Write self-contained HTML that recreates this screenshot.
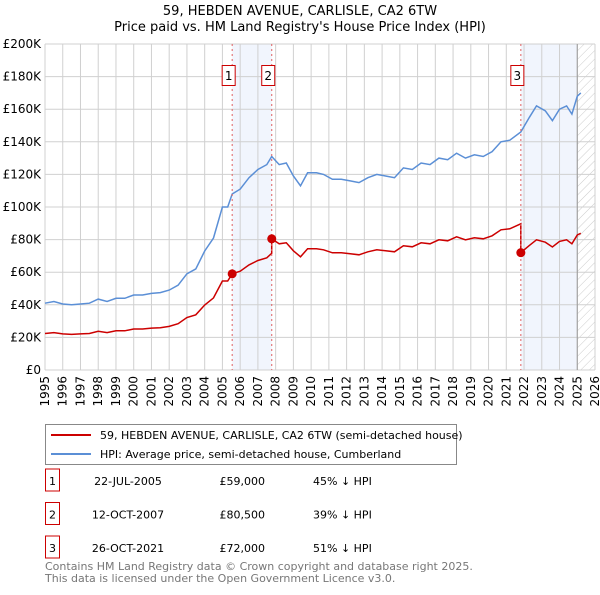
<!DOCTYPE html>
<html><head><meta charset="utf-8"><style>
body{margin:0;background:#fff;font-family:"Liberation Sans","DejaVu Sans",sans-serif;}
svg text{font-family:"DejaVu Sans","Liberation Sans",sans-serif;}
</style></head><body>
<svg id="c" width="600" height="590" xmlns="http://www.w3.org/2000/svg">
<defs><pattern id="hatch" width="6" height="6" patternUnits="userSpaceOnUse" patternTransform="rotate(45)"><line x1="0" y1="0" x2="0" y2="6" stroke="#ccc" stroke-width="1"/></pattern></defs>
<text x="300" y="15" text-anchor="middle" font-size="13">59, HEBDEN AVENUE, CARLISLE, CA2 6TW</text>
<text x="300" y="31" text-anchor="middle" font-size="13">Price paid vs. HM Land Registry's House Price Index (HPI)</text>
<g id="plot"></g>
<g>
<rect x="45.5" y="424.5" width="411" height="40" fill="#fff" stroke="#888"/>
<line x1="51" y1="435" x2="91" y2="435" stroke="#cc0000" stroke-width="2"/>
<text x="100" y="439" font-size="11">59, HEBDEN AVENUE, CARLISLE, CA2 6TW (semi-detached house)</text>
<line x1="51" y1="454" x2="91" y2="454" stroke="#5b8fd6" stroke-width="2"/>
<text x="100" y="458" font-size="11">HPI: Average price, semi-detached house, Cumberland</text>
</g>
<g id="tbl" font-size="11"></g>
<text x="45" y="570" font-size="11" fill="#777">Contains HM Land Registry data © Crown copyright and database right 2025.</text>
<text x="45" y="582" font-size="11" fill="#777">This data is licensed under the Open Government Licence v3.0.</text>
</svg>
<script>
const hpiYears=[1995,1995.5,1996,1996.5,1997,1997.5,1998,1998.5,1999,1999.5,2000,2000.5,2001,2001.5,2002,2002.5,2003,2003.5,2004,2004.5,2005,2005.3,2005.55,2006,2006.5,2007,2007.5,2007.78,2008.2,2008.6,2009,2009.4,2009.8,2010.3,2010.7,2011.2,2011.7,2012.2,2012.7,2013.2,2013.7,2014.2,2014.7,2015.2,2015.7,2016.2,2016.7,2017.2,2017.7,2018.2,2018.7,2019.2,2019.7,2020.2,2020.7,2021.2,2021.82,2022.3,2022.7,2023.2,2023.6,2024.0,2024.4,2024.7,2025.0,2025.2];
const hpiValues=[41,42,40.5,40,40.5,41,43.5,42,44,44,46,46,47,47.5,49,52,59,62,73,81,100,100,108,111,118,123,126,131,126,127,119,113,121,121,120,117,117,116,115,118,120,119,118,124,123,127,126,130,129,133,130,132,131,134,140,141,146,155,162,159,153,160,162,157,168,170];
const saleYears=[2005.55,2007.78,2021.82];
const salePrices=[59,80.5,72];
const saleDates=["22-JUL-2005","12-OCT-2007","26-OCT-2021"];
const saleLabels=["£59,000","£80,500","£72,000"];
const saleDiffs=["45% ↓ HPI","39% ↓ HPI","51% ↓ HPI"];
const yTicks=[0,20,40,60,80,100,120,140,160,180,200];
const yTickLabels=["£0","£20K","£40K","£60K","£80K","£100K","£120K","£140K","£160K","£180K","£200K"];
const xTicks=[1995,1996,1997,1998,1999,2000,2001,2002,2003,2004,2005,2006,2007,2008,2009,2010,2011,2012,2013,2014,2015,2016,2017,2018,2019,2020,2021,2022,2023,2024,2025,2026];

const NS="http://www.w3.org/2000/svg";
const X0=45,X1=595,Y0=370,Y1=44;
const xs=y=>X0+(y-1995)/(2026-1995)*(X1-X0);
const ys=v=>Y0-v/200*(Y0-Y1);
function mk(p,t,a){const e=document.createElementNS(NS,t);for(const k in a)e.setAttribute(k,a[k]);p.appendChild(e);return e;}
const g=document.getElementById('plot');
function hpiAt(t){for(let i=0;i<hpiYears.length-1;i++){if(t<=hpiYears[i+1]){const f=(t-hpiYears[i])/(hpiYears[i+1]-hpiYears[i]);return hpiValues[i]+f*(hpiValues[i+1]-hpiValues[i]);}}return hpiValues[hpiValues.length-1];}
let r=mk(g,'rect',{x:xs(saleYears[0]),y:Y1,width:xs(saleYears[1])-xs(saleYears[0]),height:Y0-Y1,fill:'#eef3fc',opacity:0.8});


r=mk(g,'rect',{x:xs(saleYears[2]),y:Y1,width:xs(2025)-xs(saleYears[2]),height:Y0-Y1,fill:'#eef3fc',opacity:0.8});


r=mk(g,'rect',{x:xs(2025),y:Y1,width:X1-xs(2025),height:Y0-Y1,fill:'url(#hatch)'});


yTicks.forEach((v,i)=>{
 const l=mk(g,'line',{x1:X0,x2:X1,y1:ys(v),y2:ys(v),stroke:'#d0d0d0','stroke-width':1});
 
 
 const t=mk(g,'text',{x:X0-4,y:ys(v)+4,'text-anchor':'end','font-size':12});
 t.textContent=yTickLabels[i];
 
 
});
xTicks.forEach(yr=>{
 const l=mk(g,'line',{x1:xs(yr),x2:xs(yr),y1:Y1,y2:Y0,stroke:'#d0d0d0','stroke-width':1});
 
 
 const t=mk(g,'text',{x:0,y:0,'text-anchor':'end','font-size':12,transform:`translate(${xs(yr)+4},376) rotate(-90)`});
 t.textContent=yr;
 
 
});
let l=mk(g,'line',{x1:xs(2025),x2:xs(2025),y1:Y1,y2:Y0,stroke:'#999','stroke-width':1});


let d=hpiYears.map((t,i)=>(i?'L':'M')+xs(t).toFixed(1)+','+ys(hpiValues[i]).toFixed(1)).join('');
let p=mk(g,'path',{d:d,fill:'none',stroke:'#5b8fd6','stroke-width':1.5});


let pts=[];
hpiYears.forEach((t,i)=>{
 let k=0;for(let j=0;j<saleYears.length;j++)if(t>=saleYears[j])k=j;
 const ratio=salePrices[k]/hpiAt(saleYears[k]);
 pts.push([t,hpiValues[i]*ratio]);
});
saleYears.forEach((s,j)=>{if(j>0){const prev=salePrices[j-1]/hpiAt(saleYears[j-1]);pts.push([s-0.001,hpiAt(s)*prev]);}pts.push([s,salePrices[j]]);});
pts.sort((a,b)=>a[0]-b[0]);
d=pts.map((q,i)=>(i?'L':'M')+xs(q[0]).toFixed(1)+','+ys(q[1]).toFixed(1)).join('');
p=mk(g,'path',{d:d,fill:'none',stroke:'#cc0000','stroke-width':1.5});


saleYears.forEach((s,j)=>{
 const vl=mk(g,'line',{x1:xs(s),x2:xs(s),y1:Y1,y2:Y0,stroke:'#e06060','stroke-width':1,'stroke-dasharray':'2,3'});
 
 
 const c=mk(g,'circle',{cx:xs(s),cy:ys(salePrices[j]),r:4.5,fill:'#cc0000'});
 
 
 const bx=mk(g,'rect',{x:xs(s)-10,y:65.5,width:13,height:20,fill:'#fff',stroke:'#cc0000'});
 
 
 const t=mk(g,'text',{x:xs(s)-3.5,y:80,'text-anchor':'middle','font-size':12});
 t.textContent=String(j+1);
 
 
});
const tb=document.getElementById('tbl');
saleYears.forEach((s,j)=>{
 const y=481+j*33.5;
 const bx=mk(tb,'rect',{x:45.5,y:y-12,width:14,height:22,fill:'#fff',stroke:'#cc0000'});
 
 
 const cols=[[52.5,String(j+1),'middle'],[128,saleDates[j],'middle'],[265,saleLabels[j],'end'],[313,saleDiffs[j],'start']];
 cols.forEach(c=>{const t=mk(tb,'text',{x:c[0],y:y+4,'text-anchor':c[2],'font-size':11,'font-family':'Liberation Sans, sans-serif'});t.textContent=c[1];
 
 });
});
</script>
</body></html>
